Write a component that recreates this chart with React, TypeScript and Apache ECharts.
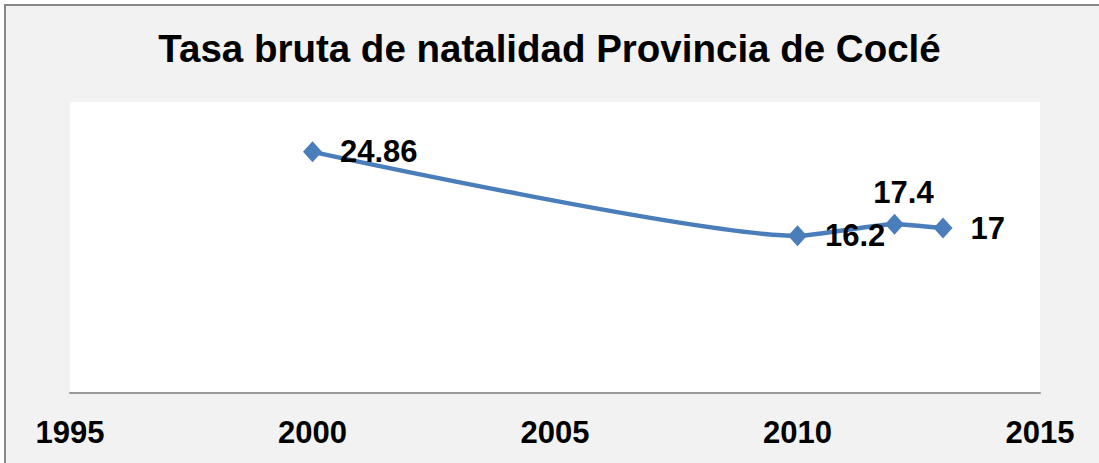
import React, { useEffect, useRef } from "react";
import * as echarts from "echarts";

const titleText = "Tasa bruta de natalidad Provincia de Coclé";
const years = [2000, 2010, 2012, 2013];
const rates = [24.86, 16.2, 17.4, 17];
const xTicks = [1995, 2000, 2005, 2010, 2015];

const FONT = "'Liberation Sans', Arial, Helvetica, sans-serif";

export default function App() {
  const ref = useRef<HTMLDivElement>(null);
  useEffect(() => {
    if (!ref.current) return;
    const chart = echarts.init(ref.current, undefined, { renderer: "svg" });
    const data = years.map((y, i) => {
      const item: any = { value: [y, rates[i]] };
      if (y === 2012) {
        item.label = { position: "top", distance: 6, offset: [9, 0] };
      }
      return item;
    });
    chart.setOption({
      animation: false,
      backgroundColor: "#ffffff",
      graphic: [
        {
          type: "rect",
          shape: { x: 5, y: 5, width: 1200, height: 600 },
          style: { fill: "#f2f2f2", stroke: "#878787", lineWidth: 2 },
          z: -10,
          silent: true,
        },
      ],
      title: {
        text: titleText,
        left: "center",
        top: 24,
        textStyle: {
          fontFamily: FONT,
          fontSize: 38.5,
          fontWeight: "bold",
          color: "#000",
        },
      },
      grid: {
        left: 70,
        right: 59,
        top: 102,
        bottom: 70,
        show: true,
        backgroundColor: "#ffffff",
        borderWidth: 0,
      },
      xAxis: {
        type: "value",
        min: xTicks[0],
        max: xTicks[xTicks.length - 1],
        interval: 5,
        axisLine: { show: true, lineStyle: { color: "#9a9a9a", width: 2 } },
        axisTick: { show: false },
        splitLine: { show: false },
        axisLabel: {
          margin: 24,
          fontFamily: FONT,
          fontSize: 31,
          fontWeight: "bold",
          color: "#000",
          formatter: (v: number) => String(v),
        },
      },
      yAxis: {
        type: "value",
        min: 0,
        max: 30,
        show: false,
        splitLine: { show: false },
      },
      series: [
        {
          type: "line",
          data,
          smooth: 0.2,
          symbol: "diamond",
          symbolSize: [19, 21],
          lineStyle: { color: "#4a7ebb", width: 4.5 },
          itemStyle: { color: "#4a7ebb" },
          label: {
            show: true,
            position: "right",
            distance: 18,
            fontFamily: FONT,
            fontSize: 31,
            fontWeight: "bold",
            color: "#000",
            formatter: (p: any) => String(p.value[1]),
          },
        },
      ],
    });
    return () => chart.dispose();
  }, []);
  return (
    <div
      ref={ref}
      style={{ position: "fixed", left: 0, top: 0, width: 1099, height: 463 }}
    />
  );
}
